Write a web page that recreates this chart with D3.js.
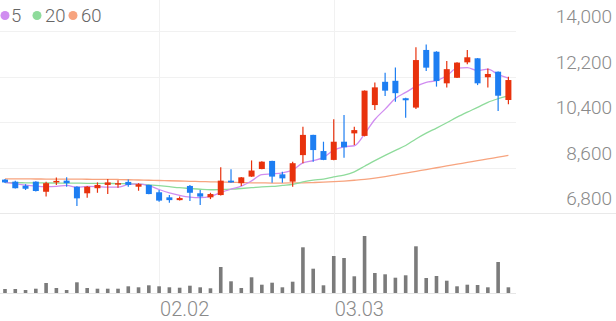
<!DOCTYPE html>
<html>
<head>
<meta charset="utf-8">
<script src="https://cdn.jsdelivr.net/npm/d3@7"></script>
<style>
  html, body { margin: 0; padding: 0; background: #fff; }
  svg { display: block; font-family: Roboto, "Noto Sans", sans-serif; }
</style>
</head>
<body>
<svg id="chart" width="616" height="321"></svg>
<script>
// Trading days on the chart (MM.DD)
const dates = [
  "01.12","01.13","01.14","01.15","01.16","01.19","01.20","01.21","01.22","01.23",
  "01.26","01.27","01.28","01.29","01.30","02.02","02.03","02.04","02.05","02.06",
  "02.09","02.10","02.11","02.12","02.13","02.19","02.20","02.23","02.24","02.25",
  "02.26","02.27","03.03","03.04","03.05","03.06","03.09","03.10","03.11","03.12",
  "03.13","03.16","03.17","03.18","03.19","03.20","03.23","03.24","03.25","03.26"
];

// OHLC
const open  = [8120,8040,7880,8040,7640,8010,8080,7840,7580,7780, 7910,7940,8030,7840,7910,7620,7420,7310,7870,7580,
               7420,7510,8080,7980,8240,8540,8860,8330,8040,9090, 9890,9250,8900,9620,9950,9850,11070,11990,12030,11340,
               10970,13250,13180,11930,12150,12760,12920,12170,12390,11270];
const high  = [8150,8080,7940,8060,8040,8200,8210,7860,7870,8010, 8150,8100,8130,7980,7920,7710,7510,7450,7910,7710,
               7600,8610,8530,8220,8880,8850,8870,8430,8830,10210, 9900,9620,10510,10680,10210,11650,11960,12350,12560,11360,
               13360,13470,13200,12810,12760,13250,12930,12520,12400,12190];
const low   = [7990,7770,7710,7650,7450,7910,7840,7080,7400,7600, 7550,7800,7840,7680,7540,7250,7210,7290,7270,7120,
               7350,7490,8000,7870,8230,8530,8000,8000,7840,8770, 8830,8890,8890,8990,9490,9830,10870,11430,11200,10570,
               10910,12420,11800,11760,12140,12680,11860,11760,10840,11100];
const close = [8010,7780,7760,7670,7980,8070,7980,7380,7840,7910, 8010,7980,7910,7940,7550,7290,7310,7390,7600,7450,
               7550,8080,8010,8210,8480,8830,8240,8170,8770,9890, 9290,8900,9620,9400,10080,11640,11770,11640,11540,11260,
               12850,12550,12020,12490,12750,12960,11930,12300,11440,12060];

// moving averages (5 / 20 / 60 days)
const ma5  = [8010,7960,7900,7860,7840,7850,7890,7820,7850,7840, 7820,7820,7930,7950,7880,7730,7600,7500,7430,7410,
              7460,7610,7740,7860,8070,8320,8350,8390,8500,8780, 8870,9000,9290,9420,9460,9930,10500,10910,11330,11570,
              11810,11970,12040,12230,12530,12550,12430,12490,12280,12140];
const ma20 = [8000,8000,7995,7990,7990,7985,7985,7980,7975,7975, 7970,7965,7960,7945,7915,7880,7840,7800,7770,7740,
              7720,7730,7745,7770,7800,7835,7850,7890,7930,8030, 8100,8140,8230,8300,8430,8650,8870,9080,9280,9470,
              9730,9960,10160,10370,10590,10790,10980,11180,11320,11430];
const ma60 = [8150,8150,8148,8146,8144,8142,8140,8138,8135,8132, 8130,8125,8115,8105,8095,8085,8075,8065,8055,8045,
              8035,8025,8015,8005,7995,7990,7985,7985,7990,7995, 8005,8020,8040,8065,8095,8130,8180,8240,8310,8380,
              8450,8520,8590,8660,8730,8800,8870,8940,9010,9080];

// volume (thousand shares)
const volume = [40,40,30,43,100,50,30,107,50,43, 43,43,67,57,77,67,57,53,73,57,
                47,260,117,50,157,83,103,57,113,457, 243,77,370,350,167,570,200,187,153,177,
                467,150,170,123,67,83,80,57,310,57];

const yTicks = [6800, 8600, 10400, 12200, 14000];
const monthTicks = ["02.02", "03.03"];
const maNames = ["5", "20", "60"];
const maColors = ["#d08df0", "#8edb9b", "#f7a47f"];

const upColor = "#e8320d";
const downColor = "#1d7ef2";

const width = 616;
const plotRight = 516;

const svg = d3.select("#chart");

const x = d3.scalePoint().domain(dates).range([5, 508.4]);
const y = d3.scaleLinear().domain([6800, 14000]).range([213, 31]);
const yVol = d3.scaleLinear().domain([0, d3.max(volume)]).range([293, 236]);

// grid
svg.append("g")
  .selectAll("line")
  .data(yTicks)
  .join("line")
  .attr("x1", 0)
  .attr("x2", d => d == 6800 ? width : plotRight)
  .attr("y1", d => Math.round(y(d)) + 0.5)
  .attr("y2", d => Math.round(y(d)) + 0.5)
  .attr("stroke", d => d == 6800 ? "#e9e9e9" : "#f1f1f1")
  .attr("stroke-width", 1);

svg.append("g")
  .selectAll("line")
  .data(monthTicks)
  .join("line")
  .attr("x1", d => Math.round(x(d)) + 0.5)
  .attr("x2", d => Math.round(x(d)) + 0.5)
  .attr("y1", 0)
  .attr("y2", 293)
  .attr("stroke", "#f1f1f1");

// volume baseline
svg.append("line")
  .attr("x1", 0).attr("x2", plotRight)
  .attr("y1", 293.5).attr("y2", 293.5)
  .attr("stroke", "#e6e6e6");

// y labels, sitting above their grid line
svg.append("g")
  .selectAll("text")
  .data(yTicks)
  .join("text")
  .attr("x", 612)
  .attr("y", d => y(d) - 8)
  .attr("text-anchor", "end")
  .attr("font-size", 19)
  .attr("font-weight", 300)
  .attr("fill", "#8a8a8a")
  .text(d => d3.format(",")(d));

// x labels start at the month line
svg.append("g")
  .selectAll("text")
  .data(monthTicks)
  .join("text")
  .attr("x", d => x(d) + 1)
  .attr("y", 316)
  .attr("font-size", 20)
  .attr("font-weight", 300)
  .attr("fill", "#8a8a8a")
  .text(d => d);

// moving average lines
const maSeries = [ma5, ma20, ma60];
const line = d3.line()
  .x((d, i) => x(dates[i]))
  .y(d => y(d))
  .curve(d3.curveMonotoneX);

svg.append("g")
  .selectAll("path")
  .data(maSeries.slice().reverse())
  .join("path")
  .attr("d", d => line(d))
  .attr("fill", "none")
  .attr("stroke", (d, i) => maColors[2 - i])
  .attr("stroke-width", 1.3);

// candles
const candles = dates.map((d, i) => ({
  date: d, o: open[i], h: high[i], l: low[i], c: close[i], v: volume[i]
}));
const col = d => d.c >= d.o ? upColor : downColor;

const cg = svg.append("g");
cg.selectAll("line")
  .data(candles)
  .join("line")
  .attr("x1", d => x(d.date))
  .attr("x2", d => x(d.date))
  .attr("y1", d => y(d.h))
  .attr("y2", d => y(d.l))
  .attr("stroke", col)
  .attr("stroke-width", 1.2);

cg.selectAll("rect")
  .data(candles)
  .join("rect")
  .attr("x", d => x(d.date) - 3)
  .attr("width", 6)
  .attr("y", d => y(Math.max(d.o, d.c)))
  .attr("height", d => Math.max(1.5, Math.abs(y(d.o) - y(d.c))))
  .attr("fill", col);

// volume bars
svg.append("g")
  .selectAll("rect")
  .data(candles)
  .join("rect")
  .attr("x", d => x(d.date) - 1.8)
  .attr("width", 3.6)
  .attr("y", d => yVol(d.v))
  .attr("height", d => 293 - yVol(d.v))
  .attr("fill", "#7b7b7b");

// legend: dot + label
const legendDots = [5, 37, 73];
const legendText = [11, 45, 81];
const legend = svg.append("g");
maNames.forEach((name, i) => {
  legend.append("circle")
    .attr("cx", legendDots[i]).attr("cy", 15.5).attr("r", 4.5)
    .attr("fill", maColors[i]);
  legend.append("text")
    .attr("x", legendText[i])
    .attr("y", 22)
    .attr("font-size", 18.5)
    .attr("font-weight", 300)
    .attr("fill", "#666")
    .text(name);
});
</script>
</body>
</html>
